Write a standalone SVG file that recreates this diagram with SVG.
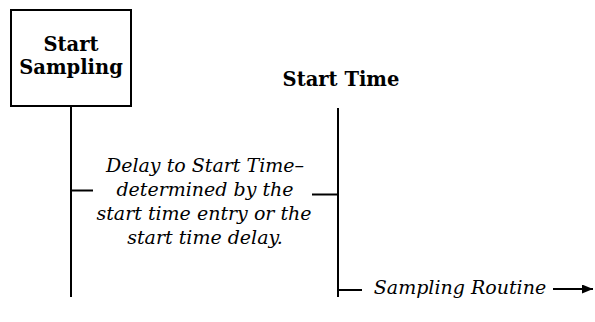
<svg xmlns="http://www.w3.org/2000/svg" width="595" height="322" viewBox="0 0 595 322">
  <style>
    .ln { stroke: #000; stroke-width: 2; fill: none; }
    .hd { font-family: "DejaVu Serif", "Liberation Serif", serif; font-weight: bold; font-size: 19.5px; fill: #000; text-anchor: middle; }
    .it { font-family: "DejaVu Serif", "Liberation Serif", serif; font-style: italic; font-size: 19px; fill: #000; text-anchor: middle; }
  </style>
  <defs>
    <marker id="arrow" viewBox="0 0 11 9" refX="11" refY="4.5" markerWidth="11" markerHeight="9" markerUnits="userSpaceOnUse" orient="auto">
      <path d="M0,0 L11,4.5 L0,9 z" fill="#000"/>
    </marker>
  </defs>

  <g id="start-sampling">
    <rect class="ln" x="11" y="10" width="120" height="96"/>
    <text class="hd" x="71" y="51">Start</text>
    <text class="hd" x="71" y="74">Sampling</text>
  </g>

  <g id="start-time">
    <text class="hd" x="341" y="86">Start Time</text>
  </g>

  <g id="delay-label">
    <text class="it" x="205" y="172">Delay to Start Time–</text>
    <text class="it" x="205" y="196">determined by the</text>
    <text class="it" x="204" y="220">start time entry or the</text>
    <text class="it" x="205" y="244">start time delay.</text>
  </g>

  <g id="routine-label">
    <text class="it" x="460" y="294">Sampling Routine</text>
  </g>

  <g id="connectors">
    <line class="ln" x1="71" y1="106" x2="71" y2="297"/>
    <line class="ln" x1="338" y1="108" x2="338" y2="297"/>
    <line class="ln" x1="71" y1="190.5" x2="93" y2="190.5"/>
    <line class="ln" x1="312" y1="194.5" x2="338" y2="194.5"/>
    <line class="ln" x1="338" y1="290" x2="362" y2="290"/>
    <line class="ln" x1="553" y1="289" x2="593" y2="289" marker-end="url(#arrow)"/>
  </g>
</svg>
